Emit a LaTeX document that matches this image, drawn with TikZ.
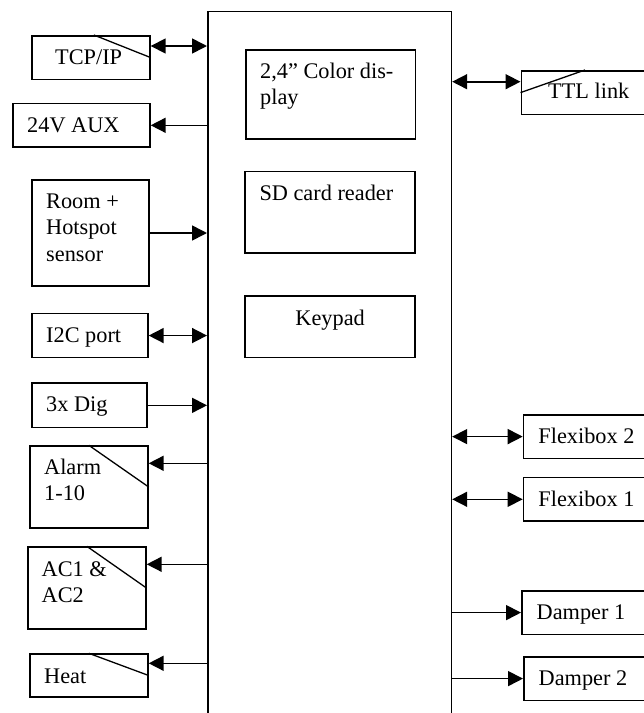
\documentclass[tikz,border=0pt]{standalone}
\usepackage{fontspec}
\setmainfont{Liberation Serif}
\usetikzlibrary{arrows.meta}

\tikzset{
	unit/.style={draw, line width=1.7pt, anchor=north west, inner sep=0pt, minimum height=43.5pt},
	lbl/.style={anchor=base west, inner sep=0pt, align=left},
	sig/.style={line width=1.6pt, -{Triangle[length=15pt,width=15pt]}},
	bisig/.style={line width=1.6pt, {Triangle[length=15pt,width=15pt]}-{Triangle[length=15pt,width=15pt]}},
	slash/.style={line width=1.3pt}
}

\begin{document}
\begin{tikzpicture}[x=1pt, y=-1pt, every node/.style={font=\fontsize{22.3}{26.6}\selectfont}]
		
		\useasboundingbox (0,0) rectangle (644,713);
		\clip (0,0) rectangle (644,713);
		
		% Controller board (runs off the bottom)
		\node[unit, minimum width=243.5pt, minimum height=730pt] (main) at (207,10.7) {};
		
		% Display, card reader and keypad
		% (base of a two-line label is its last line)
		\node[unit, minimum width=169.5pt, minimum height=89pt] (disp) at (245,49.3) {};
		\node[lbl] (disp-t) at ([shift={(15,55.6)}]disp.north west) {2,4'' Color dis-\\play};
		\node[unit, minimum width=170pt, minimum height=81.3pt] (sd) at (244.3,170.7) {};
		\node[lbl] (sd-t) at ([shift={(15,29.3)}]sd.north west) {SD card reader};
		\node[unit, minimum width=170pt, minimum height=61.7pt] (key) at (244.3,295) {};
		\node[lbl, anchor=base] (key-t) at ([shift={(0,30)}]key.north) {Keypad};
		
		% --- Left side ---
		\node[unit, minimum width=118pt] (tcp) at (31,35) {};
		\node[lbl] (tcp-t) at ([shift={(24,29.5)}]tcp.north west) {TCP/IP};
		\draw[slash] ([xshift=3pt]tcp.north) -- (tcp.east);
		\coordinate (tcp-p) at ([shift={(0,11)}]tcp.north east);
		\draw[bisig] (tcp-p) -- (tcp-p -| main.west);
		
		\node[unit, minimum width=137pt] (aux) at (12,102.7) {};
		\node[lbl] (aux-t) at ([shift={(15,29.5)}]aux.north west) {24V AUX};
		\draw[sig] (aux.east -| main.west) -- (aux.east);
		
		\node[unit, minimum width=117pt, minimum height=105.7pt] (room) at (31,179.3) {};
		\node[lbl] (room-t) at ([shift={(15,82.2)}]room.north west) {Room +\\Hotspot\\sensor};
		\draw[sig] (room.east) -- (room.east -| main.west);
		
		\node[unit, minimum width=116pt, minimum height=44pt] (i2c) at (31,312.7) {};
		\node[lbl] (i2c-t) at ([shift={(15,29.5)}]i2c.north west) {I2C port};
		\draw[bisig] (i2c.east) -- (i2c.east -| main.west);
		
		\node[unit, minimum width=115pt, minimum height=44.4pt] (dig) at (31,382.3) {};
		\node[lbl] (dig-t) at ([shift={(15,29.5)}]dig.north west) {3x Dig};
		\draw[sig] (dig.east) -- (dig.east -| main.west);
		
		% relay outputs
		\node[unit, minimum width=118pt, minimum height=81.7pt] (alarm) at (29,445.3) {};
		\node[lbl] (alarm-t) at ([shift={(15,55.3)}]alarm.north west) {Alarm\\1-10};
		\draw[slash] (alarm.north) -- (alarm.east);
		\coordinate (alarm-p) at ([shift={(0,18)}]alarm.north east);
		\draw[sig] (alarm-p -| main.west) -- (alarm-p);
		
		\node[unit, minimum width=118pt, minimum height=82pt] (ac) at (27,546.3) {};
		\node[lbl] (ac-t) at ([shift={(14.5,56.6)}]ac.north west) {AC1 \&\\AC2};
		\draw[slash] (ac.north) -- (ac.east);
		\coordinate (ac-p) at ([shift={(0,18)}]ac.north east);
		\draw[sig] (ac-p -| main.west) -- (ac-p);
		
		\node[unit, minimum width=118pt, minimum height=42.7pt] (heat) at (29,653.3) {};
		\node[lbl] (heat-t) at ([shift={(15,30)}]heat.north west) {Heat};
		\draw[slash] (heat.north) -- (heat.east);
		\coordinate (heat-p) at ([shift={(0,10)}]heat.north east);
		\draw[sig] (heat-p -| main.west) -- (heat-p);
		
		% --- Right side ---
		\node[unit, minimum width=150pt] (ttl) at (520.5,70) {};
		\node[lbl] (ttl-t) at ([shift={(27.5,28.3)}]ttl.north west) {TTL link};
		\draw[slash] (ttl.west) -- ([xshift=64.5pt]ttl.north west);
		\coordinate (ttl-p) at ([shift={(0,11.7)}]ttl.north west);
		\draw[bisig] (ttl-p -| main.east) -- (ttl-p);
		
		\node[unit, minimum width=150pt] (flex2) at (522.7,414) {};
		\node[lbl] (flex2-t) at ([shift={(15.5,29.3)}]flex2.north west) {Flexibox 2};
		\draw[bisig] (flex2.west -| main.east) -- (flex2.west);
		
		\node[unit, minimum width=150pt] (flex1) at (522.7,476.7) {};
		\node[lbl] (flex1-t) at ([shift={(15.5,29.3)}]flex1.north west) {Flexibox 1};
		\draw[bisig] (flex1.west -| main.east) -- (flex1.west);
		
		\node[unit, minimum width=150pt] (damp1) at (521,590) {};
		\node[lbl] (damp1-t) at ([shift={(15.5,29.3)}]damp1.north west) {Damper 1};
		\draw[sig] (damp1.west -| main.east) -- (damp1.west);
		
		\node[unit, minimum width=150pt] (damp2) at (523,656) {};
		\node[lbl] (damp2-t) at ([shift={(15.5,29.3)}]damp2.north west) {Damper 2};
		\draw[sig] (damp2.west -| main.east) -- (damp2.west);
		
\end{tikzpicture}
\end{document}
